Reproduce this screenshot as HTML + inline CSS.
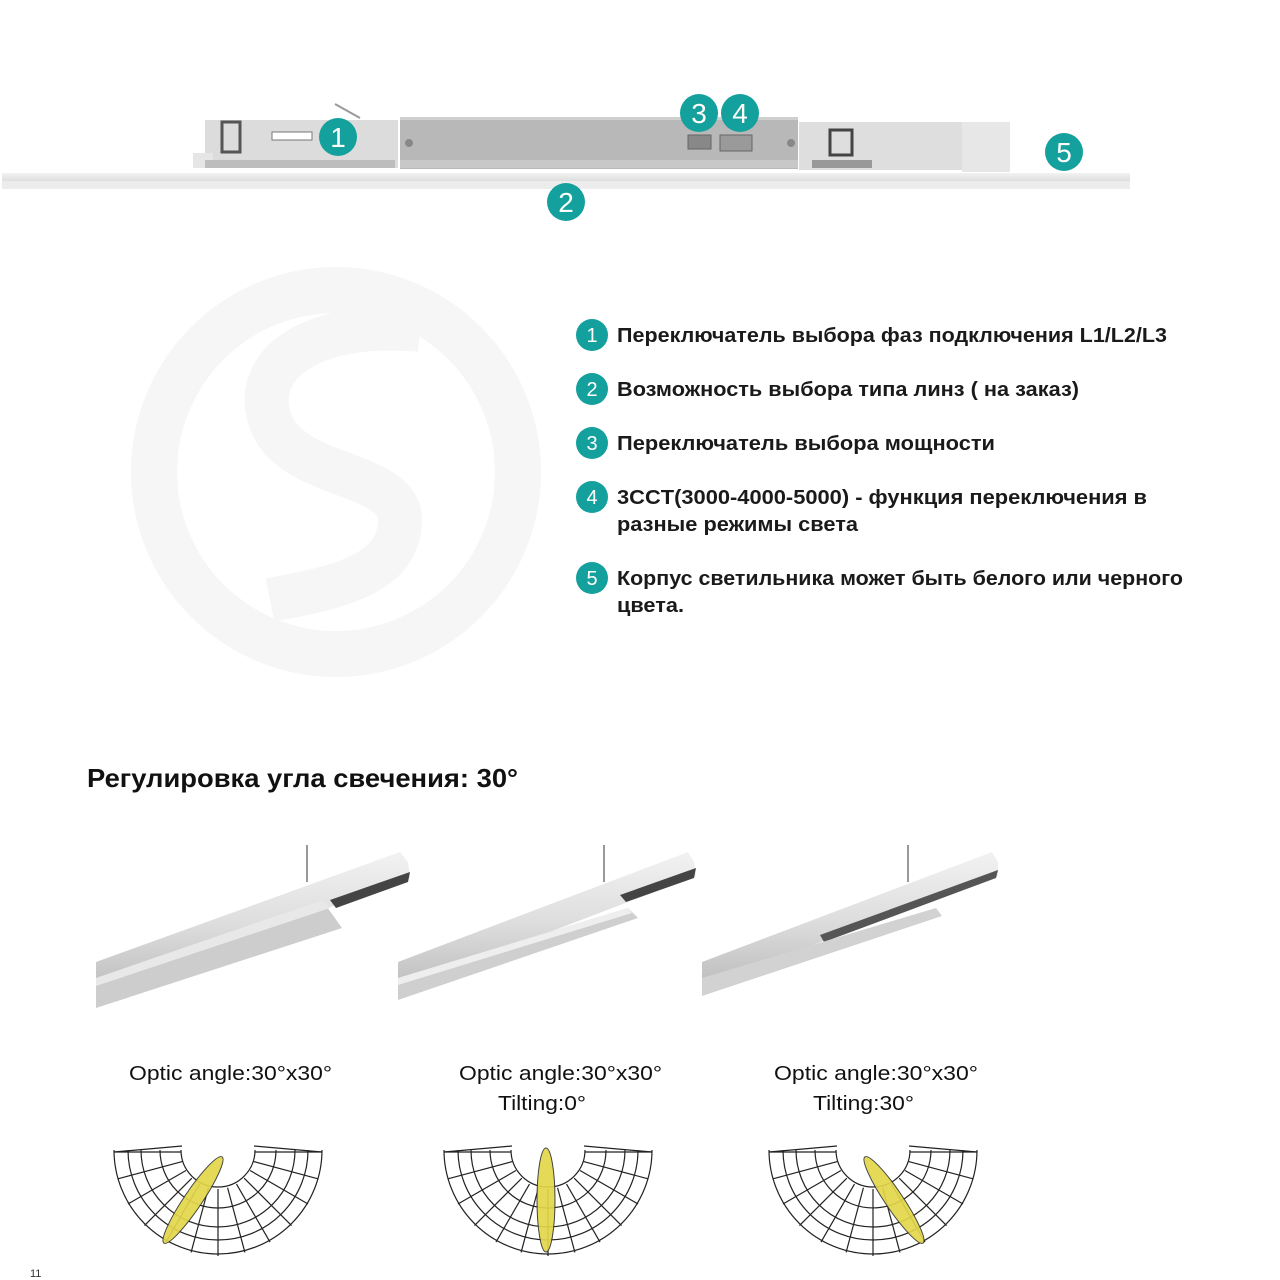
<!DOCTYPE html>
<html><head><meta charset="utf-8"><style>
html,body{margin:0;padding:0;background:#fff;}
svg{display:block;font-family:"Liberation Sans",Arial,sans-serif;}
.b{font-weight:bold;font-size:20px;fill:#1a1a1a;}
.n{fill:#fff;font-size:20px;text-anchor:middle;}
.o{font-size:20px;fill:#111;}
</style></head><body>
<svg width="1280" height="1280" viewBox="0 0 1280 1280" xmlns="http://www.w3.org/2000/svg">
<defs>
<linearGradient id="tube" x1="0" y1="0" x2="0" y2="1"><stop offset="0" stop-color="#f2f2f2"/><stop offset="0.5" stop-color="#dedede"/><stop offset="1" stop-color="#bdbdbd"/></linearGradient>
</defs>
<!-- watermark -->
<circle cx="336" cy="472" r="182" fill="none" stroke="#f6f6f6" stroke-width="46"/>
<path d="M420 330 C320 320 250 360 270 420 C290 480 400 470 400 520 C400 580 320 590 270 600" fill="none" stroke="#f6f6f6" stroke-width="44"/>

<!-- top luminaire -->
<rect x="2" y="173" width="1128" height="16" fill="url(#tube)"/>
<rect x="2" y="181" width="1128" height="8" fill="#ececec"/>
<polygon points="205,120 398,120 398,168 205,168" fill="#dcdcdc"/>
<rect x="193" y="153" width="20" height="15" fill="#e6e6e6"/>
<rect x="205" y="160" width="190" height="8" fill="#bdbdbd"/>
<rect x="222" y="122" width="18" height="30" fill="none" stroke="#555" stroke-width="3"/>
<rect x="272" y="132" width="40" height="8" fill="#fff" stroke="#777"/>
<line x1="335" y1="104" x2="360" y2="118" stroke="#999" stroke-width="2"/>
<rect x="400" y="117" width="398" height="52" fill="#b8b8b8"/>
<rect x="400" y="117" width="398" height="3" fill="#cfcfcf"/>
<rect x="400" y="160" width="398" height="8" fill="#c8c8c8"/>
<rect x="688" y="135" width="23" height="14" fill="#888" stroke="#666"/>
<rect x="720" y="135" width="32" height="16" fill="#9a9a9a" stroke="#666"/>
<circle cx="409" cy="143" r="4" fill="#888"/><circle cx="791" cy="143" r="4" fill="#888"/>
<rect x="799" y="122" width="163" height="48" fill="#dedede"/>
<rect x="962" y="122" width="48" height="50" fill="#e7e7e7"/>
<rect x="830" y="130" width="22" height="25" fill="none" stroke="#444" stroke-width="3"/>
<rect x="812" y="160" width="60" height="8" fill="#999"/>

<g>
<circle cx="338" cy="137" r="19" fill="#14a09c"/><text x="338" y="147" class="n" style="font-size:28px">1</text>
<circle cx="566" cy="202" r="19" fill="#14a09c"/><text x="566" y="212" class="n" style="font-size:28px">2</text>
<circle cx="699" cy="113" r="19" fill="#14a09c"/><text x="699" y="123" class="n" style="font-size:28px">3</text>
<circle cx="740" cy="113" r="19" fill="#14a09c"/><text x="740" y="123" class="n" style="font-size:28px">4</text>
<circle cx="1064" cy="152" r="19" fill="#14a09c"/><text x="1064" y="162" class="n" style="font-size:28px">5</text>
</g>

<!-- list -->
<g>
<circle cx="592" cy="335" r="16" fill="#14a09c"/><text x="592" y="342" class="n">1</text>
<circle cx="592" cy="389" r="16" fill="#14a09c"/><text x="592" y="396" class="n">2</text>
<circle cx="592" cy="443" r="16" fill="#14a09c"/><text x="592" y="450" class="n">3</text>
<circle cx="592" cy="497" r="16" fill="#14a09c"/><text x="592" y="504" class="n">4</text>
<circle cx="592" cy="578" r="16" fill="#14a09c"/><text x="592" y="585" class="n">5</text>
<text x="617" y="342" class="b" textLength="550" lengthAdjust="spacingAndGlyphs">Переключатель выбора фаз подключения L1/L2/L3</text>
<text x="617" y="396" class="b" textLength="462" lengthAdjust="spacingAndGlyphs">Возможность выбора типа линз ( на заказ)</text>
<text x="617" y="450" class="b" textLength="378" lengthAdjust="spacingAndGlyphs">Переключатель выбора  мощности</text>
<text x="617" y="504" class="b" textLength="530" lengthAdjust="spacingAndGlyphs">3CCT(3000-4000-5000) - функция переключения в</text>
<text x="617" y="531" class="b" textLength="241" lengthAdjust="spacingAndGlyphs">разные режимы света</text>
<text x="617" y="585" class="b" textLength="566" lengthAdjust="spacingAndGlyphs">Корпус светильника может быть белого или черного</text>
<text x="617" y="612" class="b" textLength="67" lengthAdjust="spacingAndGlyphs">цвета.</text>
</g>

<text x="87" y="787" style="font-size:26px;font-weight:bold;fill:#111" textLength="431" lengthAdjust="spacingAndGlyphs">Регулировка угла свечения: 30°</text>

<!-- angled luminaires -->
<g>
<line x1="307" y1="845" x2="307" y2="882" stroke="#777" stroke-width="1.5"/>
<polygon points="96,962 400,852 408,862 410,878 96,992" fill="url(#tube)"/>
<polygon points="330,900 410,872 408,882 336,908" fill="#444"/>
<polygon points="96,978 322,900 342,928 96,1008" fill="#cdcdcd"/>
<polygon points="96,978 322,900 330,908 96,986" fill="#e8e8e8"/>
</g>
<g>
<line x1="604" y1="845" x2="604" y2="882" stroke="#777" stroke-width="1.5"/>
<polygon points="398,962 688,852 694,862 696,876 398,990" fill="url(#tube)"/>
<polygon points="620,895 696,868 694,878 626,902" fill="#444"/>
<polygon points="398,978 628,908 638,918 398,1000" fill="#cfcfcf"/>
<polygon points="398,978 628,908 632,913 398,985" fill="#eee"/>
</g>
<g>
<line x1="908" y1="845" x2="908" y2="882" stroke="#777" stroke-width="1.5"/>
<polygon points="702,962 992,852 998,862 998,876 702,986" fill="url(#tube)"/>
<polygon points="820,935 998,870 996,878 824,942" fill="#555"/>
<polygon points="702,978 936,908 942,916 702,996" fill="#d2d2d2"/>
</g>

<g class="o">
<text x="129" y="1080" textLength="203" lengthAdjust="spacingAndGlyphs">Optic angle:30°x30°</text>
<text x="459" y="1080" textLength="203" lengthAdjust="spacingAndGlyphs">Optic angle:30°x30°</text>
<text x="498" y="1110" textLength="88" lengthAdjust="spacingAndGlyphs">Tilting:0°</text>
<text x="774" y="1080" textLength="204" lengthAdjust="spacingAndGlyphs">Optic angle:30°x30°</text>
<text x="813" y="1110" textLength="101" lengthAdjust="spacingAndGlyphs">Tilting:30°</text>
</g>
<text x="30" y="1277" style="font-size:11px;fill:#333">11</text>

<g id="polars"></g>
</svg>
<script>
(function(){
var ns="http://www.w3.org/2000/svg",g=document.getElementById("polars");
function el(t,a){var e=document.createElementNS(ns,t);for(var k in a)e.setAttribute(k,a[k]);g.appendChild(e);return e;}
var cs=[[218,1150,34,-25],[548,1150,0,-2],[873,1150,-34,21]];
cs.forEach(function(c){
 var cx=c[0],cy=c[1];
 var radii=[37,58,77,90,104];
 radii.forEach(function(r){
  el("path",{d:"M"+(cx-r)+" "+cy+" A"+r+" "+r+" 0 0 0 "+(cx+r)+" "+cy,fill:"none",stroke:"#222","stroke-width":1.2});
 });
 for(var a=0;a<=180;a+=15){
  var t=a*Math.PI/180,c1=Math.cos(t),s1=Math.sin(t);
  el("line",{x1:cx+37*c1,y1:cy+37*s1+2,x2:cx+104*c1,y2:cy+104*s1+2,stroke:"#222","stroke-width":1.2});
 }
 el("line",{x1:cx-104,y1:cy+2,x2:cx-36,y2:cy-4,stroke:"#222","stroke-width":1.2});
 el("line",{x1:cx+36,y1:cy-4,x2:cx+104,y2:cy+2,stroke:"#222","stroke-width":1.2});
 var ex=cx+c[3],ey=cy+50;
 el("ellipse",{cx:ex,cy:ey,rx:9,ry:52,fill:"#e3d64a",stroke:"#333","stroke-width":1,opacity:0.92,transform:"rotate("+c[2]+" "+ex+" "+ey+")"});
});
})();
</script>
</body></html>
